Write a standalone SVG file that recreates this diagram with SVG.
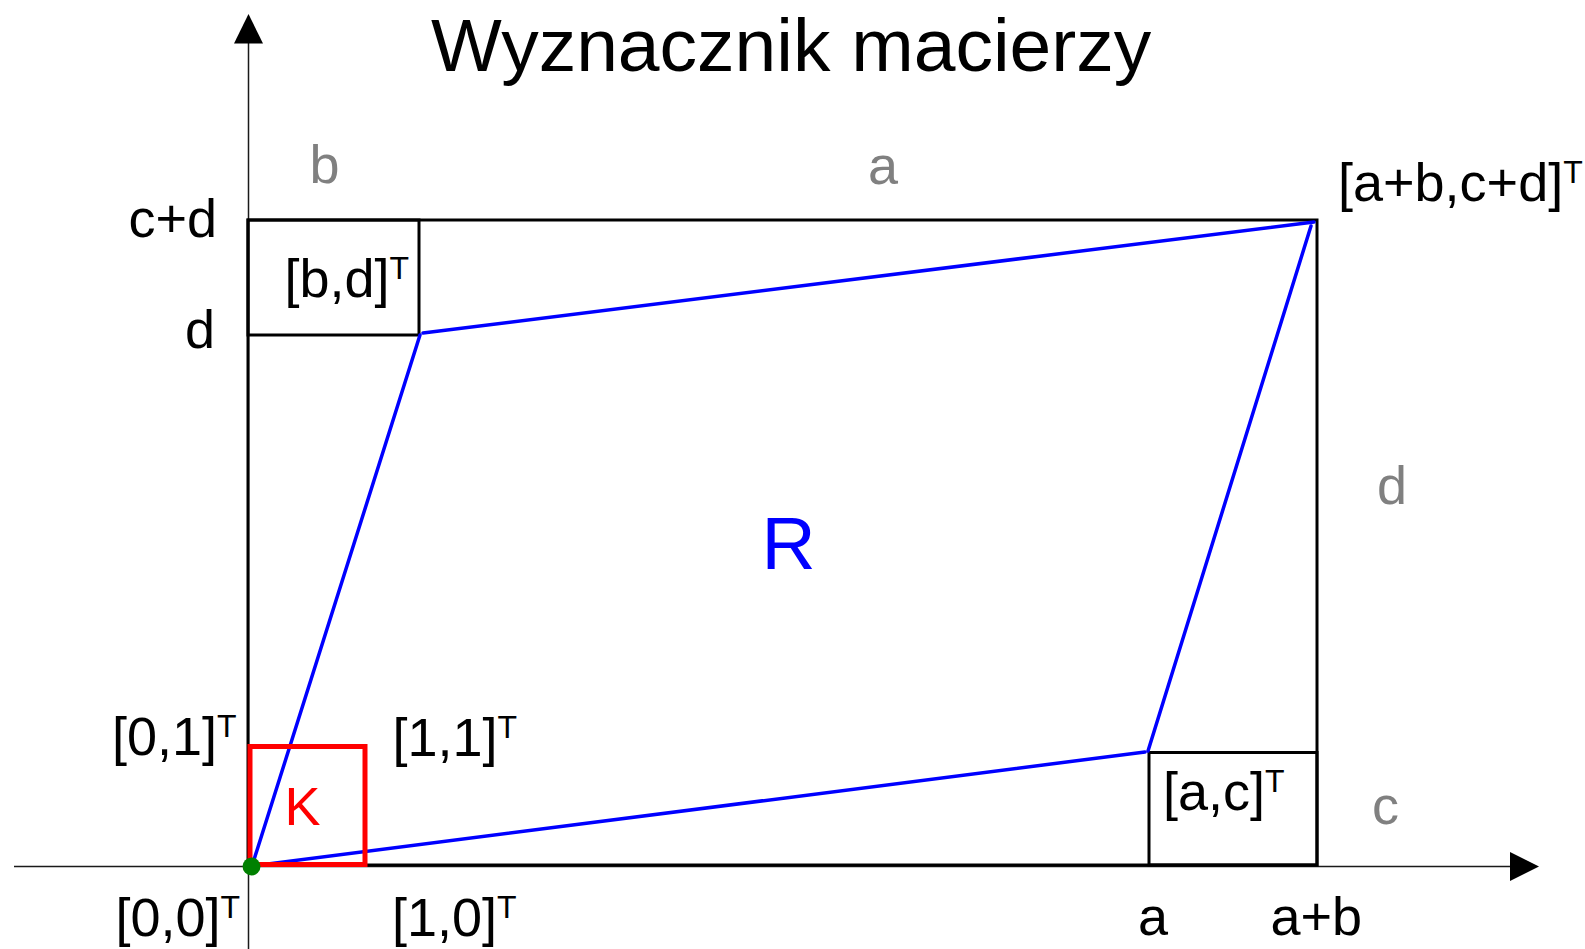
<svg xmlns="http://www.w3.org/2000/svg" width="1585" height="949" viewBox="0 0 1585 949">
<style>
text { font-family: "Liberation Sans", Arial, sans-serif; }
.lbl { font-size: 54px; fill: #000; }
.grey { font-size: 54px; fill: #808080; }
.sup { font-size: 32px; }
.box { fill: none; stroke: #000; stroke-width: 3; }
.axis { stroke: #1a1a1a; stroke-width: 1.5; fill: none; }
.blue { stroke: #0000ff; stroke-width: 3.5; stroke-linecap: round; }
</style>
<rect width="1585" height="949" fill="#fff"/>
<g id="title"><text x="431" y="71" font-size="75" fill="#000">Wyznacznik macierzy</text></g>
<g id="connectors">
  <g id="axes">
    <line class="axis" x1="248.5" y1="949" x2="248.5" y2="42"/>
    <polygon points="248.5,14 234,43.5 263,43.5" fill="#000"/>
    <line class="axis" x1="14" y1="866.5" x2="1512" y2="866.5"/>
    <polygon points="1539,866.5 1510,852 1510,881" fill="#000"/>
  </g>
</g>
<g id="outer-rect"><rect class="box" x="248" y="220" width="1069" height="645"/></g>
<g id="rect-bd"><rect class="box" x="248" y="220" width="171" height="115"/></g>
<g id="rect-ac"><rect class="box" x="1149" y="752.5" width="168" height="112.5"/></g>
<g id="parallelogram-R">
  <line class="blue" x1="252" y1="866" x2="420" y2="335"/>
  <line class="blue" x1="423" y1="333" x2="1314" y2="222"/>
  <line class="blue" x1="1311" y1="226" x2="1148" y2="751"/>
  <line class="blue" x1="1145" y1="752" x2="252" y2="866"/>
</g>
<g id="square-K"><rect x="250" y="746.5" width="115" height="118" fill="none" stroke="#ff0000" stroke-width="5"/></g>
<g id="origin-dot"><circle cx="251.5" cy="866.5" r="9" fill="#008000"/></g>
<g id="labels">
  <text class="lbl" x="112" y="755">[0,1]<tspan class="sup" dy="-18">T</tspan></text>
  <text class="lbl" x="392.5" y="756">[1,1]<tspan class="sup" dy="-18">T</tspan></text>
  <text class="lbl" x="115.5" y="936">[0,0]<tspan class="sup" dy="-18">T</tspan></text>
  <text class="lbl" x="392" y="936">[1,0]<tspan class="sup" dy="-18">T</tspan></text>
  <text class="lbl" x="284.5" y="297">[b,d]<tspan class="sup" dy="-18">T</tspan></text>
  <text class="lbl" x="1163" y="810">[a,c]<tspan class="sup" dy="-18">T</tspan></text>
  <text class="lbl" x="1338" y="201">[a+b,c+d]<tspan class="sup" dy="-18">T</tspan></text>
  <text class="lbl" x="128.5" y="237">c+d</text>
  <text class="lbl" x="185" y="348">d</text>
  <text class="lbl" x="1138" y="935">a</text>
  <text class="lbl" x="1270.5" y="935">a+b</text>
  <text class="grey" x="309.5" y="183">b</text>
  <text class="grey" x="868" y="184">a</text>
  <text class="grey" x="1377" y="504">d</text>
  <text class="grey" x="1372" y="824">c</text>
  <text x="284.5" y="825" font-size="54" fill="#ff0000">K</text>
  <text x="761.5" y="569" font-size="75" fill="#0000ff">R</text>
</g>
</svg>
